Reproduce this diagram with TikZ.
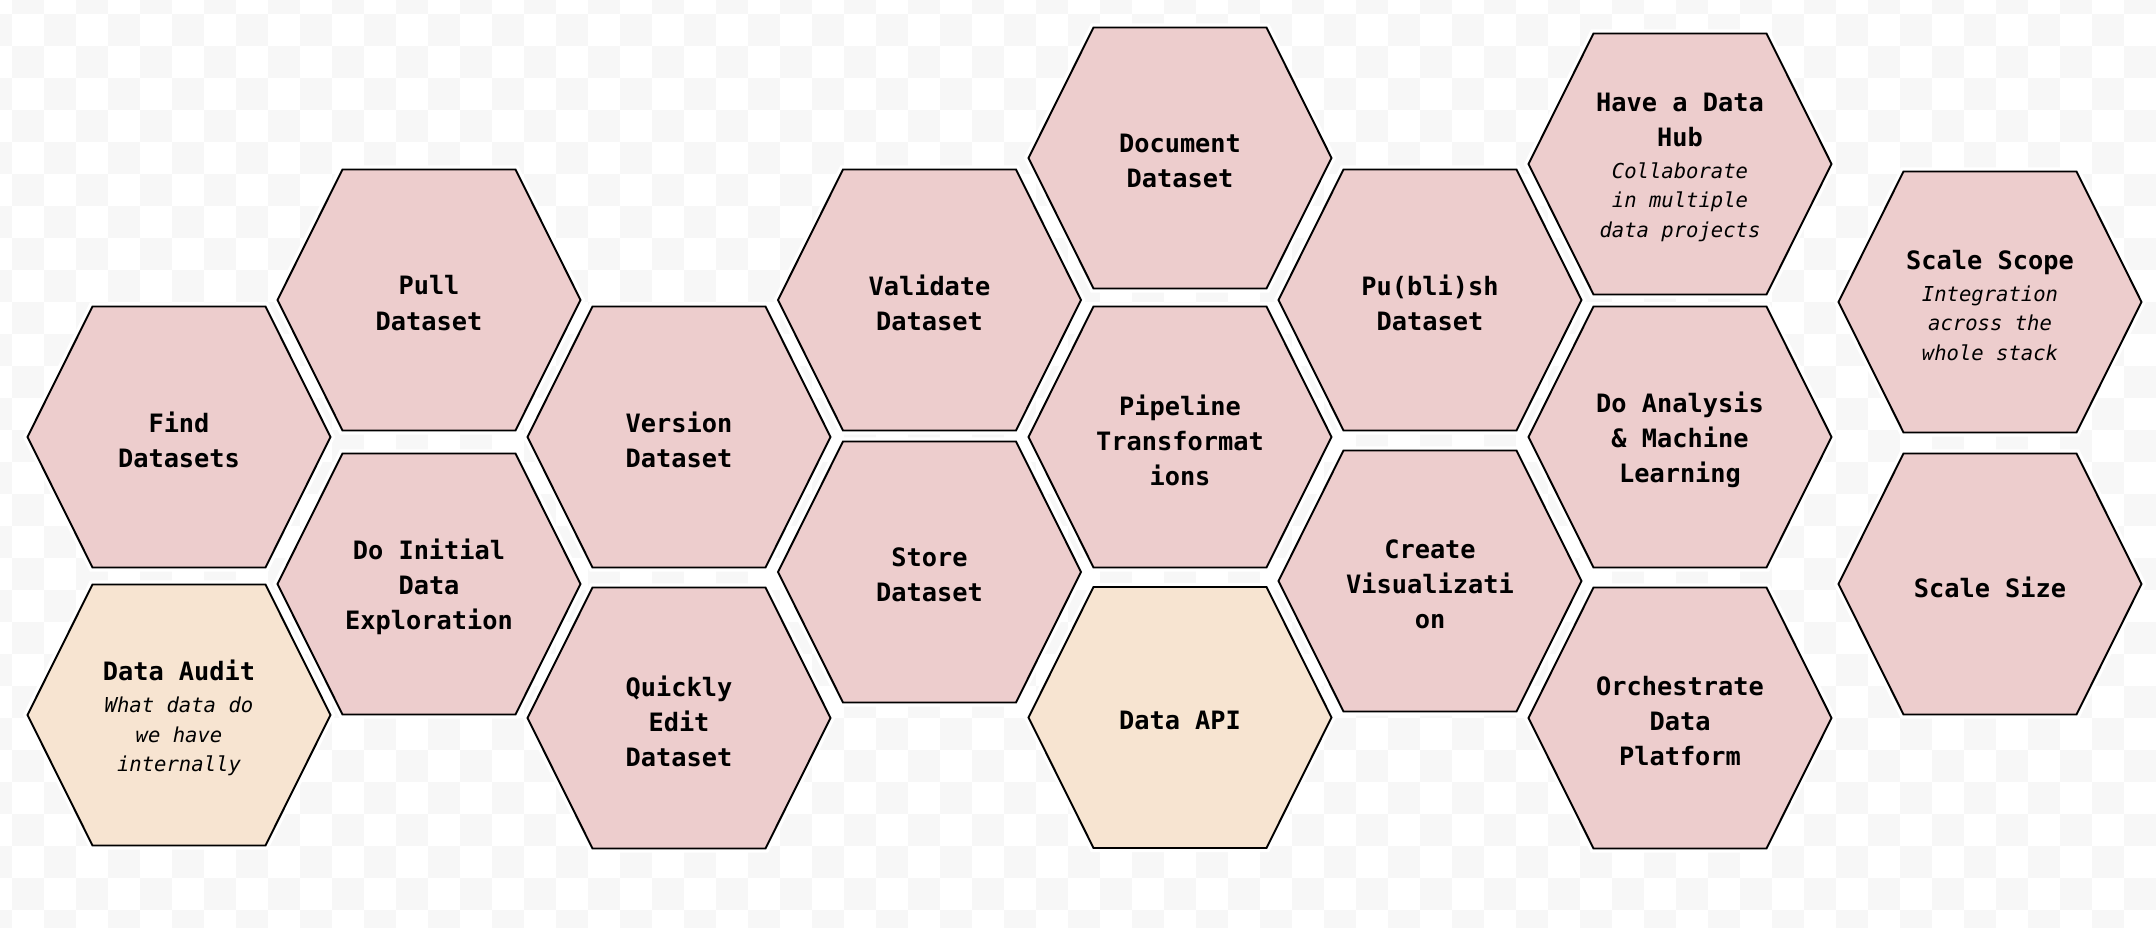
\documentclass[tikz,border=0pt]{standalone}
\usepackage{fontspec}
\usepackage{xcolor}
\usepackage{tikz}
\newfontfamily\hexfont{DejaVu Sans Mono}
\definecolor{hexpink}{HTML}{EDCDCD}
\definecolor{hexbeige}{HTML}{F7E4D1}
\definecolor{checkgrey}{HTML}{F7F7F7}
\newcommand\hexnote[1]{{\fontsize{5.85}{8.4}\selectfont\mdseries\itshape #1}}
\tikzset{
  hexline/.style={draw=black,line width=0.55pt,line join=miter,preaction={draw=white,line width=2.4pt}},
  hextext/.style={align=center,inner sep=0pt,yshift=-0.9pt,font=\hexfont\bfseries\fontsize{7.2}{10}\selectfont}
}

\begin{document}
\begin{tikzpicture}
\useasboundingbox (0,0) rectangle (21.56,9.28);
% checkered backdrop
\begin{scope}
\clip (0,0) rectangle (21.56,9.28);
\fill[white] (0,0) rectangle (21.56,9.28);
\foreach \i in {-1,...,67}
  \foreach \j in {-1,...,28}{
    \ifodd\numexpr\i+\j\relax
      \fill[checkgrey] ({0.12+0.32*\i},{9.14-0.32*\j}) rectangle ++(0.32,-0.32);
    \fi}
\end{scope}
% hexagons
\foreach \nm/\x/\y/\col/\txt in {
  find/1.79/4.91/hexpink/{Find\\Datasets},
  audit/1.79/2.13/hexbeige/{Data Audit\\[-0.9pt]\hexnote{What data do}\\[-1.6pt]\hexnote{we have}\\[-1.6pt]\hexnote{internally}},
  pull/4.29/6.28/hexpink/{Pull\\Dataset},
  explore/4.29/3.44/hexpink/{Do Initial\\Data\\Exploration},
  version/6.79/4.91/hexpink/{Version\\Dataset},
  edit/6.79/2.10/hexpink/{Quickly\\Edit\\Dataset},
  validate/9.295/6.28/hexpink/{Validate\\Dataset},
  store/9.295/3.56/hexpink/{Store\\Dataset},
  document/11.80/7.70/hexpink/{Document\\Dataset},
  pipeline/11.80/4.91/hexpink/{Pipeline\\Transformat\\ions},
  api/11.80/2.105/hexbeige/{Data API},
  publish/14.30/6.28/hexpink/{Pu(bli)sh\\Dataset},
  visual/14.30/3.47/hexpink/{Create\\Visualizati\\on},
  hub/16.80/7.64/hexpink/{Have a Data\\Hub\\[-0.9pt]\hexnote{Collaborate}\\[-1.6pt]\hexnote{in multiple}\\[-1.6pt]\hexnote{data projects}},
  analysis/16.80/4.91/hexpink/{Do Analysis\\\& Machine\\Learning},
  platform/16.80/2.10/hexpink/{Orchestrate\\Data\\Platform},
  scope/19.90/6.26/hexpink/{Scale Scope\\[-0.9pt]\hexnote{Integration}\\[-1.6pt]\hexnote{across the}\\[-1.6pt]\hexnote{whole stack}},
  size/19.90/3.44/hexpink/{Scale Size}}{
  \filldraw[hexline,fill=\col] (\x,\y) ++(-1.515,0) -- ++(0.65,1.305) -- ++(1.73,0)
    -- ++(0.65,-1.305) -- ++(-0.65,-1.305) -- ++(-1.73,0) -- cycle;
  \node[hextext] (\nm) at (\x,\y) {\txt};
}
\end{tikzpicture}
\end{document}
